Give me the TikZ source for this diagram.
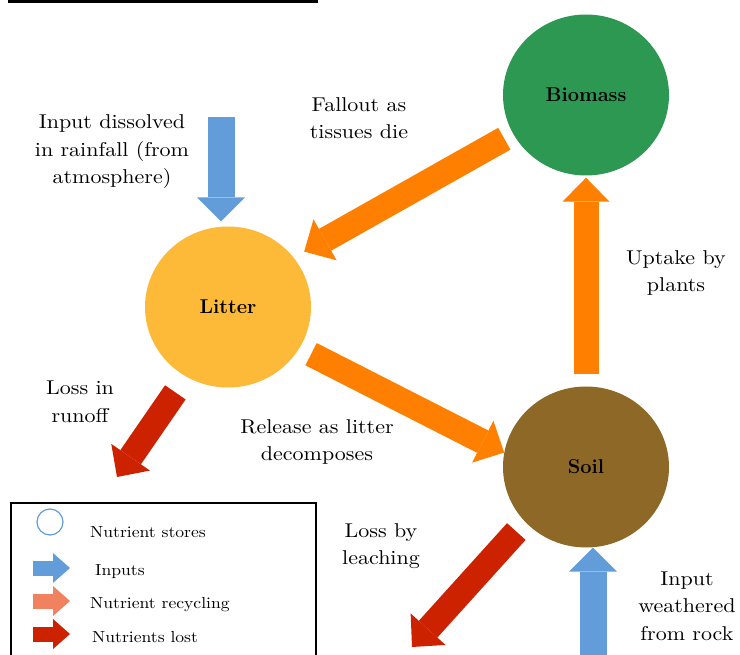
\documentclass[tikz,border=0pt]{standalone}
\usepackage{fontspec}
\newfontfamily\lblfont{lmroman10-regular.otf}[FakeStretch=1.1]
\usetikzlibrary{arrows.meta,shapes.geometric,calc}
\definecolor{cBlue}{RGB}{98,157,217}
\definecolor{cOrange}{RGB}{255,128,0}
\definecolor{cRed}{RGB}{204,34,0}
\definecolor{cGreen}{RGB}{44,152,82}
\definecolor{cLitter}{RGB}{253,185,56}
\definecolor{cSoil}{RGB}{141,104,38}
\definecolor{cSalmon}{RGB}{241,130,95}
\tikzset{
  store/.style={ellipse,minimum width=166pt,minimum height=161pt,inner sep=0pt,
    font=\fontsize{20}{24}\selectfont\bfseries},
  lbl/.style={align=center,font=\lblfont\fontsize{20}{27.5}\selectfont},
  bigarrow/.style={line width=25pt,-{Triangle[width=47pt,length=24pt,line width=0pt]}},
  inarrow/.style={line width=27pt,draw=cBlue,-{Triangle[width=48pt,length=24pt,line width=0pt]}},
  recyc/.style={bigarrow,draw=cOrange},
  lost/.style={bigarrow,draw=cRed},
  legarrow/.style={line width=15pt,-{Triangle[width=30pt,length=17pt,line width=0pt]}},
  legtxt/.style={anchor=base west,inner sep=0pt,font=\lblfont\fontsize{16}{20}\selectfont},
}
\begin{document}
\begin{tikzpicture}[x=1pt,y=-1pt]
\useasboundingbox (0,0) rectangle (740,655);
\clip (0,0) rectangle (740,655);
% cut title underline
\fill[black] (8,0) rectangle (318,3.3);

% stores
\node[store,fill=cGreen] (biomass) at (586,95) {Biomass};
\node[store,fill=cLitter] (litter) at (228,307) {Litter};
\node[store,fill=cSoil] (soil) at (586,467) {Soil};

% free ends
\coordinate (rainTop) at (221,117);
\coordinate (runoffEnd) at (117,477);
\coordinate (leachEnd) at (412,647);
\coordinate (rockBot) at (593,665);

% recycling
\draw[recyc,shorten <=10pt,shorten >=12pt] (biomass.208) -- (litter.37);
\draw[recyc,shorten <=12pt,shorten >=2pt] (soil.north) -- (biomass.south);
\draw[recyc,shorten <=13pt] (litter.330) -- (soil.170);

% losses
\draw[lost,shorten <=19pt] (litter.239) -- (runoffEnd);
\draw[lost,shorten <=13pt] (soil.222) -- (leachEnd);

% inputs
\draw[inarrow,shorten >=5pt] (rainTop) -- (rainTop |- litter.north);
\draw[inarrow] (rockBot) -- (rockBot |- soil.south);

% labels
\node[lbl] (tRain) at (112,152) {Input dissolved\\in rainfall (from\\atmosphere)};
\node[lbl] (tFall) at (359,118) {Fallout as\\tissues die};
\node[lbl] (tUptake) at (676,273) {Uptake by\\plants};
\node[lbl] (tRunoff) at (80,402) {Loss in\\runoff};
\node[lbl] (tRelease) at (317,442) {Release as litter\\decomposes};
\node[lbl] (tLeach) at (381,546) {Loss by\\leaching};
\node[lbl] (tRock) at (687,606) {Input\\weathered\\from rock};

% legend
\draw[line width=1.5pt] (11,670) -- (11,503) -- (316,503) -- (316,670);
\node[circle,draw=cBlue,line width=1.2pt,minimum size=26pt,inner sep=0pt] (legStore) at (50,522) {};
\coordinate (legIn0) at (33,568);  \coordinate (legIn1) at (70,568);
\coordinate (legRe0) at (33,601);  \coordinate (legRe1) at (70,601);
\coordinate (legLo0) at (33,634);  \coordinate (legLo1) at (70,634);
\draw[legarrow,draw=cBlue] (legIn0) -- (legIn1);
\draw[legarrow,draw=cSalmon] (legRe0) -- (legRe1);
\draw[legarrow,draw=cRed] (legLo0) -- (legLo1);
\node[legtxt] (lt1) at (90,537) {Nutrient stores};
\node[legtxt] (lt2) at (95,575) {Inputs};
\node[legtxt] (lt3) at (90,608) {Nutrient recycling};
\node[legtxt] (lt4) at (92,642) {Nutrients lost};
\end{tikzpicture}
\end{document}
